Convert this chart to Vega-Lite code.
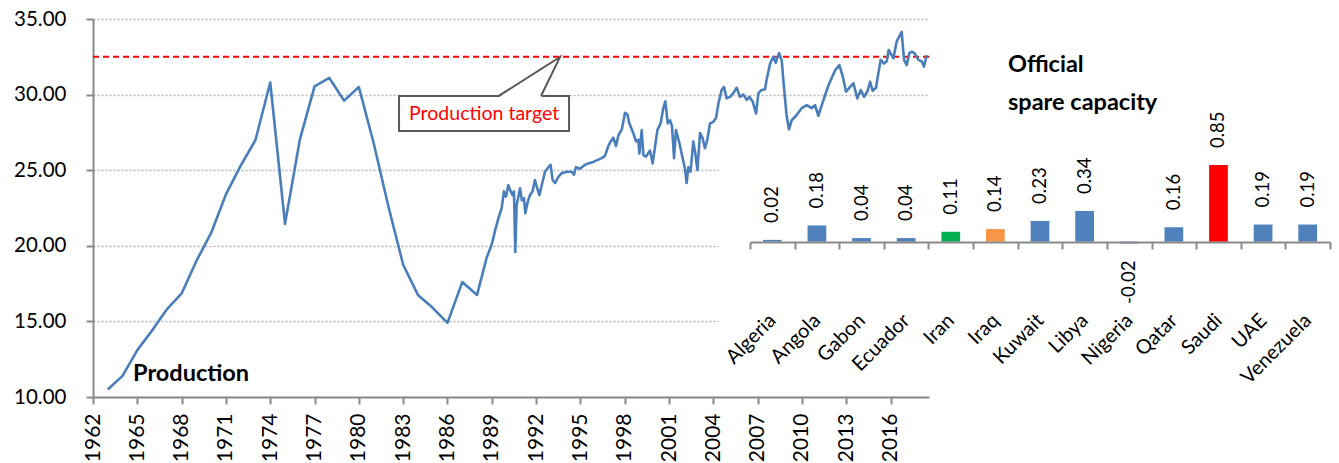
{
  "$schema": "https://vega.github.io/schema/vega-lite/v6.json",
  "width": 836,
  "height": 378,
  "autosize": {"type": "none"},
  "padding": {"left": 93, "top": 19, "right": 410, "bottom": 66},
  "background": "white",
  "config": {
    "view": {"stroke": null},
    "font": "Lato",
    "locale": {"number": {"decimal": ".", "thousands": ",", "grouping": [3], "currency": ["$", ""], "minus": "-"}},
    "axis": {"labelFont": "Lato", "labelColor": "#000000", "domainColor": "#898989", "tickColor": "#898989", "domainWidth": 2, "tickWidth": 2, "tickSize": 7, "title": null}
  },
  "datasets": {
    "production": [
      {"year": 1963, "mbd": 10.5}, {"year": 1964, "mbd": 11.4}, {"year": 1965, "mbd": 13.1}, {"year": 1966, "mbd": 14.4},
      {"year": 1967, "mbd": 15.8}, {"year": 1968, "mbd": 16.85}, {"year": 1969, "mbd": 19.0}, {"year": 1970, "mbd": 20.85},
      {"year": 1971, "mbd": 23.4}, {"year": 1972, "mbd": 25.3}, {"year": 1973, "mbd": 27.0}, {"year": 1974, "mbd": 30.8},
      {"year": 1975, "mbd": 21.45}, {"year": 1976, "mbd": 27.0}, {"year": 1977, "mbd": 30.55}, {"year": 1978, "mbd": 31.1},
      {"year": 1979, "mbd": 29.6}, {"year": 1980, "mbd": 30.5}, {"year": 1981, "mbd": 26.8}, {"year": 1982, "mbd": 22.6},
      {"year": 1983, "mbd": 18.75}, {"year": 1984, "mbd": 16.75}, {"year": 1985, "mbd": 15.9}, {"year": 1986, "mbd": 14.9},
      {"year": 1987, "mbd": 17.6}, {"year": 1988, "mbd": 16.75},
      {"year": 1988.65, "mbd": 19.2}, {"year": 1989.0, "mbd": 20.1}, {"year": 1989.22, "mbd": 21.0}, {"year": 1989.44, "mbd": 21.8},
      {"year": 1989.67, "mbd": 22.5}, {"year": 1989.82, "mbd": 23.6}, {"year": 1989.96, "mbd": 23.25}, {"year": 1990.12, "mbd": 24.0},
      {"year": 1990.28, "mbd": 23.6}, {"year": 1990.41, "mbd": 23.35}, {"year": 1990.5, "mbd": 23.6}, {"year": 1990.59, "mbd": 19.6},
      {"year": 1990.68, "mbd": 22.7}, {"year": 1990.8, "mbd": 23.25}, {"year": 1990.91, "mbd": 23.8}, {"year": 1991.04, "mbd": 23.0},
      {"year": 1991.18, "mbd": 23.15}, {"year": 1991.27, "mbd": 22.15}, {"year": 1991.43, "mbd": 22.9}, {"year": 1991.58, "mbd": 23.35},
      {"year": 1991.76, "mbd": 23.6}, {"year": 1991.92, "mbd": 24.35}, {"year": 1992.08, "mbd": 23.8}, {"year": 1992.22, "mbd": 23.35},
      {"year": 1992.38, "mbd": 24.0}, {"year": 1992.6, "mbd": 24.9}, {"year": 1992.83, "mbd": 25.2}, {"year": 1992.98, "mbd": 25.35},
      {"year": 1993.12, "mbd": 24.35}, {"year": 1993.28, "mbd": 24.15}, {"year": 1993.5, "mbd": 24.55}, {"year": 1993.73, "mbd": 24.8},
      {"year": 1994.07, "mbd": 24.9}, {"year": 1994.41, "mbd": 24.9}, {"year": 1994.56, "mbd": 24.7}, {"year": 1994.7, "mbd": 25.2},
      {"year": 1994.97, "mbd": 25.1}, {"year": 1995.3, "mbd": 25.35}, {"year": 1995.53, "mbd": 25.45}, {"year": 1995.87, "mbd": 25.55},
      {"year": 1996.1, "mbd": 25.65}, {"year": 1996.44, "mbd": 25.8}, {"year": 1996.66, "mbd": 25.95}, {"year": 1996.89, "mbd": 26.6},
      {"year": 1997.05, "mbd": 26.9}, {"year": 1997.23, "mbd": 27.15}, {"year": 1997.41, "mbd": 26.6}, {"year": 1997.57, "mbd": 27.3},
      {"year": 1997.8, "mbd": 27.7}, {"year": 1998.02, "mbd": 28.8}, {"year": 1998.18, "mbd": 28.7}, {"year": 1998.31, "mbd": 28.1},
      {"year": 1998.58, "mbd": 27.45}, {"year": 1998.76, "mbd": 26.9}, {"year": 1998.92, "mbd": 27.0}, {"year": 1998.99, "mbd": 26.1},
      {"year": 1999.15, "mbd": 27.65}, {"year": 1999.26, "mbd": 26.0}, {"year": 1999.44, "mbd": 25.9}, {"year": 1999.71, "mbd": 26.3},
      {"year": 1999.89, "mbd": 25.45}, {"year": 2000.05, "mbd": 26.55}, {"year": 2000.21, "mbd": 27.65}, {"year": 2000.43, "mbd": 28.1},
      {"year": 2000.61, "mbd": 29.1}, {"year": 2000.75, "mbd": 29.55}, {"year": 2000.91, "mbd": 28.1}, {"year": 2001.07, "mbd": 28.3},
      {"year": 2001.2, "mbd": 27.9}, {"year": 2001.34, "mbd": 25.8}, {"year": 2001.47, "mbd": 27.65}, {"year": 2001.7, "mbd": 26.8},
      {"year": 2001.92, "mbd": 25.8}, {"year": 2002.08, "mbd": 25.1}, {"year": 2002.19, "mbd": 24.15}, {"year": 2002.31, "mbd": 25.2},
      {"year": 2002.46, "mbd": 24.9}, {"year": 2002.64, "mbd": 26.9}, {"year": 2002.78, "mbd": 26.1}, {"year": 2002.92, "mbd": 25.0},
      {"year": 2003.1, "mbd": 27.45}, {"year": 2003.28, "mbd": 27.1}, {"year": 2003.43, "mbd": 26.45}, {"year": 2003.59, "mbd": 27.0},
      {"year": 2003.77, "mbd": 28.1}, {"year": 2004.0, "mbd": 28.2}, {"year": 2004.18, "mbd": 28.45}, {"year": 2004.34, "mbd": 29.4},
      {"year": 2004.56, "mbd": 30.3}, {"year": 2004.72, "mbd": 30.5}, {"year": 2004.9, "mbd": 29.75}, {"year": 2005.13, "mbd": 29.85},
      {"year": 2005.35, "mbd": 30.1}, {"year": 2005.58, "mbd": 30.45}, {"year": 2005.8, "mbd": 29.85}, {"year": 2006.03, "mbd": 30.0},
      {"year": 2006.26, "mbd": 29.65}, {"year": 2006.44, "mbd": 29.85}, {"year": 2006.66, "mbd": 29.55}, {"year": 2006.89, "mbd": 28.75},
      {"year": 2007.05, "mbd": 30.1}, {"year": 2007.27, "mbd": 30.3}, {"year": 2007.5, "mbd": 30.35}, {"year": 2007.61, "mbd": 31.0},
      {"year": 2007.84, "mbd": 32.05}, {"year": 2008.06, "mbd": 32.5}, {"year": 2008.22, "mbd": 32.1}, {"year": 2008.45, "mbd": 32.75},
      {"year": 2008.63, "mbd": 32.25}, {"year": 2008.78, "mbd": 30.5}, {"year": 2008.96, "mbd": 28.6}, {"year": 2009.12, "mbd": 27.7},
      {"year": 2009.3, "mbd": 28.3}, {"year": 2009.64, "mbd": 28.65}, {"year": 2009.98, "mbd": 29.1}, {"year": 2010.32, "mbd": 29.3},
      {"year": 2010.66, "mbd": 29.1}, {"year": 2010.88, "mbd": 29.3}, {"year": 2011.11, "mbd": 28.6}, {"year": 2011.34, "mbd": 29.3},
      {"year": 2011.56, "mbd": 29.95}, {"year": 2011.79, "mbd": 30.6}, {"year": 2012.01, "mbd": 31.1}, {"year": 2012.24, "mbd": 31.6},
      {"year": 2012.53, "mbd": 31.95}, {"year": 2012.76, "mbd": 31.2}, {"year": 2012.98, "mbd": 30.2}, {"year": 2013.25, "mbd": 30.5},
      {"year": 2013.48, "mbd": 30.75}, {"year": 2013.75, "mbd": 29.75}, {"year": 2013.98, "mbd": 30.3}, {"year": 2014.2, "mbd": 29.85},
      {"year": 2014.43, "mbd": 30.2}, {"year": 2014.61, "mbd": 30.85}, {"year": 2014.79, "mbd": 30.25}, {"year": 2015.01, "mbd": 30.45},
      {"year": 2015.17, "mbd": 31.4}, {"year": 2015.33, "mbd": 32.3}, {"year": 2015.56, "mbd": 32.05}, {"year": 2015.74, "mbd": 32.2},
      {"year": 2015.87, "mbd": 32.95}, {"year": 2016.01, "mbd": 32.7}, {"year": 2016.19, "mbd": 32.4}, {"year": 2016.41, "mbd": 33.5},
      {"year": 2016.59, "mbd": 33.85}, {"year": 2016.75, "mbd": 34.15}, {"year": 2016.91, "mbd": 32.3}, {"year": 2017.09, "mbd": 31.95},
      {"year": 2017.27, "mbd": 32.75}, {"year": 2017.45, "mbd": 32.85}, {"year": 2017.65, "mbd": 32.7}, {"year": 2017.88, "mbd": 32.3},
      {"year": 2018.1, "mbd": 32.2}, {"year": 2018.26, "mbd": 31.85}, {"year": 2018.44, "mbd": 32.6}
    ],
    "spare": [
      {"country": "Algeria", "value": 0.02}, {"country": "Angola", "value": 0.18}, {"country": "Gabon", "value": 0.04},
      {"country": "Ecuador", "value": 0.04}, {"country": "Iran", "value": 0.11}, {"country": "Iraq", "value": 0.14},
      {"country": "Kuwait", "value": 0.23}, {"country": "Libya", "value": 0.34}, {"country": "Nigeria", "value": -0.02},
      {"country": "Qatar", "value": 0.16}, {"country": "Saudi", "value": 0.85}, {"country": "UAE", "value": 0.19},
      {"country": "Venezuela", "value": 0.19}
    ]
  },
  "layer": [
    {
      "layer": [
        {
          "data": {"values": [{"part": "inset background"}]},
          "mark": {"type": "rect", "fill": "white", "stroke": null},
          "encoding": {
            "x": {"datum": 2004.38, "type": "quantitative",
              "scale": {"domain": [1962, 2018.6], "nice": false, "zero": false},
              "axis": {"values": [1962, 1965, 1968, 1971, 1974, 1977, 1980, 1983, 1986, 1989, 1992, 1995, 1998, 2001, 2004, 2007, 2010, 2013, 2016],
                "format": "d", "labelAngle": 270, "labelAlign": "right", "labelBaseline": "middle", "labelPadding": 9,
                "labelFontSize": 21, "labelOverlap": false, "grid": false, "title": null}},
            "x2": {"datum": 2018.6},
            "y": {"datum": 10.4, "type": "quantitative",
              "scale": {"domain": [10, 35], "nice": false, "zero": false},
              "axis": {"values": [10, 15, 20, 25, 30, 35], "format": ".2f", "labelFontSize": 20.5, "labelPadding": 20,
                "labelOverlap": false, "grid": true, "gridColor": "#b5b5b5", "gridDash": [2, 2], "gridWidth": 1.5, "title": null}},
            "y2": {"datum": 26.0}
          }
        },
        {
          "data": {"values": [{"label": "Production target", "value": 32.5}]},
          "mark": {"type": "rule", "color": "#ff0000", "strokeDash": [6, 4], "strokeWidth": 2},
          "encoding": {"y": {"field": "value", "type": "quantitative"}}
        },
        {
          "data": {"name": "production"},
          "mark": {"type": "line", "color": "#4a7ebb", "strokeWidth": 2.6, "strokeJoin": "round"},
          "encoding": {
            "x": {"field": "year", "type": "quantitative"},
            "y": {"field": "mbd", "type": "quantitative"}
          }
        },
        {
          "data": {"values": [{"label": "Production target"}]},
          "mark": {"type": "rect", "fill": "white", "stroke": "#595959", "strokeWidth": 2},
          "encoding": {
            "x": {"datum": 1982.72, "type": "quantitative"},
            "x2": {"datum": 1994.23},
            "y": {"datum": 27.59, "type": "quantitative"},
            "y2": {"datum": 29.91}
          }
        },
        {
          "data": {"values": [{"x": 1989.47, "y": 29.8}, {"x": 1993.62, "y": 32.49}, {"x": 1992.33, "y": 29.8}]},
          "mark": {"type": "line", "fill": "white", "stroke": "white", "strokeWidth": 0.5, "interpolate": "linear-closed"},
          "encoding": {
            "x": {"field": "x", "type": "quantitative"},
            "y": {"field": "y", "type": "quantitative"},
            "order": {"value": null}
          }
        },
        {
          "data": {"values": [{"x": 1989.47, "y": 29.91}, {"x": 1993.62, "y": 32.49}, {"x": 1992.33, "y": 29.91}]},
          "mark": {"type": "line", "color": "#595959", "strokeWidth": 2},
          "encoding": {
            "x": {"field": "x", "type": "quantitative"},
            "y": {"field": "y", "type": "quantitative"},
            "order": {"value": null}
          }
        },
        {
          "data": {"values": [{"t": "Production target"}]},
          "mark": {"type": "text", "color": "#ff0000", "fontSize": 19.5, "align": "center", "baseline": "middle"},
          "encoding": {
            "x": {"datum": 1988.48, "type": "quantitative"},
            "y": {"datum": 28.72, "type": "quantitative"},
            "text": {"field": "t"}
          }
        },
        {
          "data": {"values": [{"t": "Production"}]},
          "mark": {"type": "text", "color": "#000000", "fontSize": 23.5, "fontWeight": "bold", "align": "left", "baseline": "alphabetic"},
          "encoding": {
            "x": {"datum": 1964.71, "type": "quantitative"},
            "y": {"datum": 11.06, "type": "quantitative"},
            "text": {"field": "t"}
          }
        },
        {
          "data": {"values": [{"t": "Official"}]},
          "mark": {"type": "text", "color": "#000000", "fontSize": 23.5, "fontWeight": "bold", "align": "left", "baseline": "alphabetic"},
          "encoding": {
            "x": {"datum": 2023.95, "type": "quantitative"},
            "y": {"datum": 31.49, "type": "quantitative"},
            "text": {"field": "t"}
          }
        },
        {
          "data": {"values": [{"t": "spare capacity"}]},
          "mark": {"type": "text", "color": "#000000", "fontSize": 23.5, "fontWeight": "bold", "align": "left", "baseline": "alphabetic"},
          "encoding": {
            "x": {"datum": 2023.95, "type": "quantitative"},
            "y": {"datum": 28.98, "type": "quantitative"},
            "text": {"field": "t"}
          }
        }
      ]
    },
    {
      "data": {"name": "spare"},
      "encoding": {
        "x": {"field": "country", "type": "nominal", "sort": null,
          "scale": {"type": "band", "domain": ["Algeria", "Angola", "Gabon", "Ecuador", "Iran", "Iraq", "Kuwait", "Libya", "Nigeria", "Qatar", "Saudi", "UAE", "Venezuela"],
            "range": [657, 1237], "paddingInner": 0, "paddingOuter": 0},
          "axis": {"orient": "bottom", "offset": -155, "zindex": 2, "domain": true, "ticks": true, "tickBand": "extent", "labelAngle": -45, "labelAlign": "right",
            "labelBaseline": "middle", "labelPadding": 68, "labelDx": 12, "labelFontSize": 20, "labelOverlap": false,
            "grid": false, "title": null, "domainColor": "#898989", "domainWidth": 2, "tickColor": "#898989", "tickWidth": 2, "tickSize": 7}},
        "y": {"field": "value", "type": "quantitative", "scale": {"domain": [-1.722, 2.469], "nice": false, "zero": false}, "axis": null}
      },
      "layer": [
        {
          "mark": {"type": "bar", "width": {"band": 0.42}},
          "encoding": {
            "y2": {"datum": 0},
            "color": {"field": "country", "type": "nominal",
              "scale": {"domain": ["Algeria", "Angola", "Gabon", "Ecuador", "Iran", "Iraq", "Kuwait", "Libya", "Nigeria", "Qatar", "Saudi", "UAE", "Venezuela"],
                "range": ["#4f81bd", "#4f81bd", "#4f81bd", "#4f81bd", "#00b050", "#f79646", "#4f81bd", "#4f81bd", "#4f81bd", "#4f81bd", "#ff0000", "#4f81bd", "#4f81bd"]},
              "legend": null}
          }
        },
        {
          "mark": {"type": "text", "angle": 270, "fontSize": 18.5, "color": "#000000", "baseline": "middle",
            "align": {"expr": "datum.value < 0 ? 'right' : 'left'"},
            "dx": {"expr": "datum.value < 0 ? -17 : 17"}},
          "encoding": {"text": {"field": "value", "type": "quantitative", "format": ".2f"}}
        }
      ]
    }
  ],
  "resolve": {"scale": {"x": "independent", "y": "independent"}}
}
